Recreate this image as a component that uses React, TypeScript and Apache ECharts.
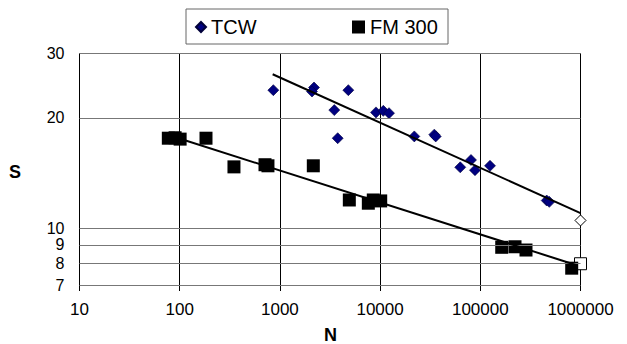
import React, { useEffect, useRef } from "react";
import * as echarts from "echarts";

const tcwN = [860, 2190, 2090, 4820, 3490, 3775, 9100, 10770, 12270, 21950, 34750, 35900, 80750, 63100, 88500, 125000, 460000, 488000];
const tcwS = [23.8, 24.2, 23.6, 23.8, 21.0, 17.6, 20.7, 20.9, 20.6, 17.8, 18.0, 17.8, 15.35, 14.66, 14.4, 14.8, 11.9, 11.8];
const fmN = [77, 90, 101, 183, 348, 710, 760, 2155, 4930, 7630, 8550, 10140, 163600, 222000, 285800, 817000];
const fmS = [17.6, 17.65, 17.5, 17.6, 14.7, 14.9, 14.8, 14.8, 11.94, 11.7, 11.94, 11.87, 8.87, 8.9, 8.72, 7.78];
const tcwPredN = [1000000];
const tcwPredS = [10.5];
const fmPredN = [1000000];
const fmPredS = [8.0];
const tcwTrendN = [847, 1000000];
const tcwTrendS = [26.3, 11.0];
const fmTrendN = [80, 900000];
const fmTrendS = [17.9, 7.94];
const yTicks = [7, 8, 9, 10, 20, 30];
const xMin = 10;
const xMax = 1000000;
const yMin = 7;
const yMax = 30;

const zip = (a: number[], b: number[]) => a.map((v, i) => [v, b[i]]);
const FONT = "'Liberation Sans', Arial, sans-serif";

export default function App() {
  const ref = useRef<HTMLDivElement>(null);
  useEffect(() => {
    if (!ref.current) return;
    const chart = echarts.init(ref.current, null, { renderer: "svg" });
    chart.setOption({
      animation: false,
      backgroundColor: "#fff",
      textStyle: { fontFamily: FONT },
      grid: { left: 79.5, right: 46.5, top: 53.3, bottom: 59 },
      graphic: [
        {
          type: "rect",
          shape: { x: 186, y: 9, width: 262, height: 35 },
          style: { fill: "#fff", stroke: "#666", lineWidth: 1 },
          z: 0,
        },
        {
          type: "text",
          left: 9,
          top: 163,
          style: { text: "S", font: "bold 18px " + FONT, fill: "#000" },
        },
        {
          type: "text",
          left: 324,
          top: 326,
          style: { text: "N", font: "bold 18px " + FONT, fill: "#000" },
        },
      ],
      legend: [
        {
          data: [{ name: "TCW", icon: "diamond" }],
          left: 195,
          top: 17,
          padding: 0,
          itemWidth: 10,
          itemHeight: 10,
          textStyle: { fontSize: 20, color: "#000", fontFamily: FONT },
        },
        {
          data: [{ name: "FM 300", icon: "rect" }],
          left: 352,
          top: 17,
          padding: 0,
          itemWidth: 13,
          itemHeight: 13,
          textStyle: { fontSize: 20, color: "#000", fontFamily: FONT },
        },
      ],
      xAxis: {
        type: "log",
        logBase: 10,
        min: xMin,
        max: xMax,
        axisLine: { show: true, lineStyle: { color: "#777", width: 1 } },
        axisTick: { show: true, length: 6, lineStyle: { color: "#000" } },
        splitLine: { show: true, lineStyle: { color: "#000", width: 1 } },
        axisLabel: {
          fontSize: 17,
          color: "#000",
          margin: 16,
          fontFamily: FONT,
          formatter: (v: number) => String(Math.round(v)),
        },
      },
      yAxis: {
        type: "log",
        logBase: 10,
        min: yMin,
        max: yMax,
        axisLine: { show: false },
        axisTick: { show: false },
        splitLine: { show: false },
        axisLabel: { show: false },
      },
      series: [
        {
          type: "line",
          name: "grid",
          data: [[xMin, yMin]],
          showSymbol: false,
          silent: true,
          z: 1,
          lineStyle: { width: 0 },
          markLine: {
            silent: true,
            symbol: ["none", "none"],
            lineStyle: { color: "#777", width: 1, type: "solid" },
            label: {
              show: true,
              position: "start",
              distance: 15,
              fontSize: 16,
              lineHeight: 14,
              color: "#000",
              fontFamily: FONT,
              formatter: (p: any) => String(p.value),
            },
            data: yTicks.map((t) => ({ yAxis: t })),
          },
        },
        {
          type: "scatter",
          name: "TCW",
          data: zip(tcwN, tcwS),
          symbol: "diamond",
          symbolSize: 11,
          itemStyle: { color: "#000080", borderColor: "#00003a", borderWidth: 0.6, opacity: 1 },
          z: 3,
        },
        {
          type: "scatter",
          name: "FM 300",
          data: zip(fmN, fmS),
          symbol: "rect",
          symbolSize: 13,
          itemStyle: { color: "#000", opacity: 1 },
          z: 3,
        },
        {
          type: "scatter",
          name: "TCW pred",
          data: zip(tcwPredN, tcwPredS),
          symbol: "diamond",
          symbolSize: 11,
          itemStyle: { color: "#fff", borderColor: "#000", borderWidth: 1, opacity: 1 },
          z: 4,
        },
        {
          type: "scatter",
          name: "FM pred",
          data: zip(fmPredN, fmPredS),
          symbol: "rect",
          symbolSize: 12,
          itemStyle: { color: "#fff", borderColor: "#000", borderWidth: 1, opacity: 1 },
          z: 2,
        },
        {
          type: "line",
          name: "TCW trend",
          data: zip(tcwTrendN, tcwTrendS),
          showSymbol: false,
          symbol: "none",
          lineStyle: { color: "#000", width: 2 },
          z: 5,
        },
        {
          type: "line",
          name: "FM trend",
          data: zip(fmTrendN, fmTrendS),
          showSymbol: false,
          symbol: "none",
          lineStyle: { color: "#000", width: 2 },
          z: 5,
        },
      ],
    });
    return () => chart.dispose();
  }, []);
  return (
    <div
      ref={ref}
      style={{ position: "absolute", left: 0, top: 0, width: 627, height: 344 }}
    />
  );
}
